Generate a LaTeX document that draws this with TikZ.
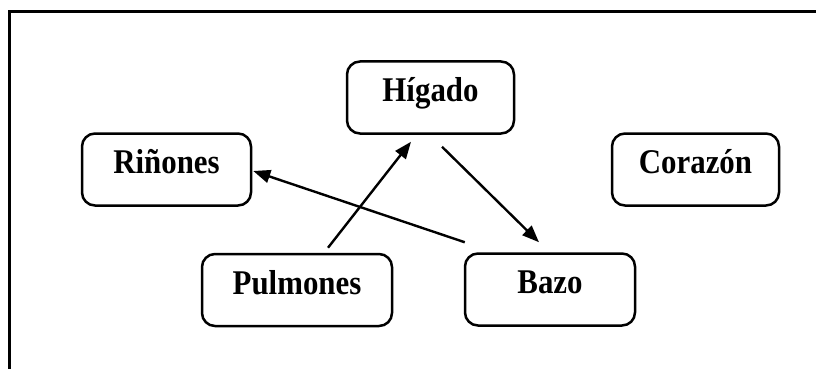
\documentclass[tikz,border=0pt]{standalone}
\usepackage{fontspec}
\setmainfont{Liberation Serif}
\usetikzlibrary{arrows.meta}
\newcommand{\alto}[1]{\scalebox{0.98}[1.1]{#1}}

\begin{document}
\begin{tikzpicture}[x=1pt,y=-1pt,
  organo/.style={draw,line width=2.5pt,rounded corners=13pt,inner sep=0pt,
    minimum height=72pt,text height=40pt,text depth=32pt,
    font=\fontsize{31.5}{36}\selectfont\bfseries},
  flecha/.style={line width=2.4pt,-{Triangle[length=17pt,width=13pt]}}]
\useasboundingbox (0,0) rectangle (816,369);
\draw [line width=3pt] (9.5,369) -- (9.5,11.5) -- (816,11.5);
\node (hig) [organo,minimum width=167pt] at (430.5,97.5) {\alto{Hígado}};
\node (rin) [organo,minimum width=169pt] at (166.5,169.5) {\alto{Riñones}};
\node (cor) [organo,minimum width=167pt] at (695.5,169.5) {\alto{Corazón}};
\node (pul) [organo,minimum width=190pt] at (297,290) {\alto{Pulmones}};
\node (baz) [organo,minimum width=170pt] at (550,289.5) {\alto{Bazo}};
\draw [flecha] ([xshift=31pt,yshift=5pt]pul.north) -- ([xshift=-19.5pt,yshift=-7pt]hig.south);
\draw [flecha] ([xshift=11.5pt,yshift=-12pt]hig.south) -- ([xshift=-11pt,yshift=10pt]baz.north);
\draw [flecha] ([xshift=1pt,yshift=10pt]baz.north west) -- ([xshift=1pt,yshift=-1.5pt]rin.east);
\end{tikzpicture}
\end{document}
